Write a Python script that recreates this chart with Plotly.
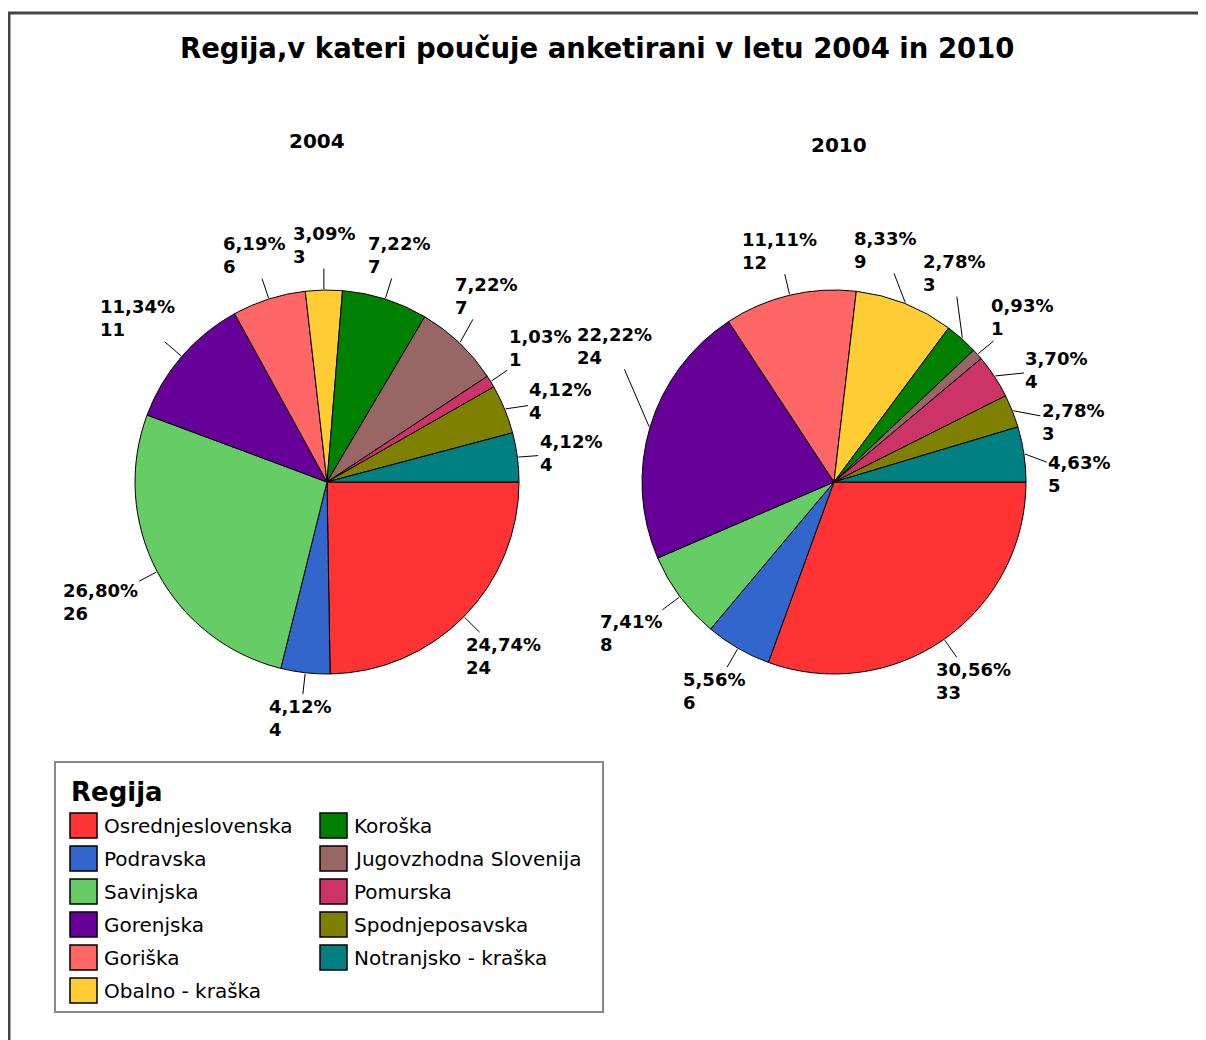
import numpy as np
import plotly.graph_objects as go

# data
regions = ["Osrednjeslovenska", "Podravska", "Savinjska", "Gorenjska", "Goriška",
           "Obalno - kraška", "Koroška", "Jugovzhodna Slovenija", "Pomurska",
           "Spodnjeposavska", "Notranjsko - kraška"]
counts_2004 = [24, 4, 26, 11, 6, 3, 7, 7, 1, 4, 4]
counts_2010 = [33, 6, 8, 24, 12, 9, 3, 1, 4, 3, 5]
years = ["2004", "2010"]

colors = ["#FF3333", "#3366CC", "#66CC66", "#660099", "#FF6666", "#FFCC33",
          "#008000", "#996666", "#CC3366", "#808000", "#008080"]

# page is 1206x1040, the html body adds an 8px margin
PAGE_W, PAGE_H = 1206, 1040
OFF = 8
W, H = PAGE_W - OFF, PAGE_H - OFF
R = 192
GAP = 20
centers = [(327, 482), (834, 482)]
FONT = "DejaVu Sans"


def X(px):
    return (px - OFF) / W


def Y(py):
    return 1 - (py - OFF) / H


def bold_width(s, size):
    w = {"%": 1.002, ",": 0.380}
    return sum(w.get(c, 0.696) for c in s) * size


def overlap(a, b, pad=2):
    ox = a[2] + b[2] + pad - abs(a[0] - b[0])
    oy = a[3] + b[3] + pad - abs(a[1] - b[1])
    return max(ox, 0) * max(oy, 0)


def place_labels(mids, hws, hhs, cx, cy, obstacles):
    ang = list(mids)
    n = len(ang)
    step = 0.003

    def box(i, a=None):
        a = ang[i] if a is None else a
        ux, uy = np.cos(a), np.sin(a)
        ext = min(hws[i] / max(abs(ux), 1e-6), hhs[i] / max(abs(uy), 1e-6))
        d = R + GAP + ext
        return (cx + d * ux, cy + d * uy, hws[i], hhs[i])

    for _ in range(4000):
        moved = False
        for i in range(n):
            j = (i + 1) % n
            if overlap(box(i), box(j)) > 0:
                ang[i] -= step
                ang[j] += step
                moved = True
            hit = sum(overlap(box(i), ob) for ob in obstacles)
            if hit > 0:
                up = sum(overlap(box(i, ang[i] + 5 * step), ob) for ob in obstacles)
                dn = sum(overlap(box(i, ang[i] - 5 * step), ob) for ob in obstacles)
                ang[i] += step if up <= dn else -step
                moved = True
        if not moved:
            break
    return [box(i) for i in range(n)]


fig = go.Figure()
annotations = []
shapes = []
placed = []

for year, counts, (cx, cy) in zip(years, [counts_2004, counts_2010], centers):
    fig.add_trace(go.Pie(
        labels=regions,
        values=counts,
        sort=False,
        direction="clockwise",
        rotation=90,
        textinfo="none",
        marker=dict(colors=colors, line=dict(color="black", width=1)),
        domain=dict(x=[X(cx - R), X(cx + R)], y=[Y(cy + R), Y(cy - R)]),
        showlegend=False,
        name=year,
    ))

    total = sum(counts)
    cum = np.cumsum([0] + counts)
    mids = [(cum[i] + counts[i] / 2) / total * 2 * np.pi for i in range(len(counts))]
    pcts = [f"{v / total * 100:.2f}".replace(".", ",") + "%" for v in counts]
    hws = [max(bold_width(p, 18), bold_width(str(v), 18)) / 2 + 2 for p, v in zip(pcts, counts)]
    hhs = [25] * len(counts)
    spots = place_labels(mids, hws, hhs, cx, cy, list(placed))
    placed.extend(spots)

    for a, p, v, (tx, ty, _, _) in zip(mids, pcts, counts, spots):
        ex, ey = cx + (R + 1) * np.cos(a), cy + (R + 1) * np.sin(a)
        annotations.append(dict(
            x=X(ex), y=Y(ey), xref="paper", yref="paper",
            ax=tx - ex, ay=ty - ey,
            text=f"<b>{p}<br>{v}</b>", align="left",
            showarrow=True, arrowhead=0, arrowwidth=1, arrowcolor="black", standoff=0,
            font=dict(family=FONT, size=18, color="black"),
        ))

    # year caption above each pie
    annotations.append(dict(
        x=X(cx - 10 if year == "2004" else cx + 5), y=Y(141 if year == "2004" else 145),
        xref="paper", yref="paper", xanchor="center", yanchor="middle", showarrow=False,
        text=f"<b>{year}</b>", font=dict(family=FONT, size=20, color="black"),
    ))

# title
annotations.append(dict(
    x=X(597), y=Y(48), xref="paper", yref="paper", xanchor="center", yanchor="middle",
    showarrow=False,
    text="<b>Regija,v kateri poučuje anketirani v letu 2004 in 2010</b>",
    font=dict(family=FONT, size=27.5, color="black"),
))

# outer frame
shapes.append(dict(type="rect", xref="paper", yref="paper",
                   x0=X(9), x1=X(1225), y0=Y(1060), y1=Y(13),
                   line=dict(color="#444444", width=3)))

# legend box drawn by hand (two columns, filled top-down)
shapes.append(dict(type="rect", xref="paper", yref="paper",
                   x0=X(55), x1=X(603), y0=Y(1012), y1=Y(762),
                   line=dict(color="#888888", width=2)))
annotations.append(dict(
    x=X(69), y=Y(792), xref="paper", yref="paper", xanchor="left", yanchor="middle",
    showarrow=False,
    text="<b>Regija</b>", font=dict(family=FONT, size=26, color="black"),
))
col_x = [70, 320]
for k, (name, col) in enumerate(zip(regions, colors)):
    c, r = divmod(k, 6)
    x0 = col_x[c]
    y0 = 813 + r * 33
    shapes.append(dict(type="rect", xref="paper", yref="paper",
                       x0=X(x0), x1=X(x0 + 27), y0=Y(y0 + 25), y1=Y(y0),
                       fillcolor=col, line=dict(color="black", width=1.5)))
    annotations.append(dict(
        x=X(x0 + 32), y=Y(y0 + 13), xref="paper", yref="paper",
        xanchor="left", yanchor="middle", showarrow=False, text=name,
        font=dict(family=FONT, size=20, color="black"),
    ))

fig.update_layout(
    width=W, height=H,
    margin=dict(l=0, r=0, t=0, b=0),
    paper_bgcolor="white",
    plot_bgcolor="white",
    annotations=annotations,
    shapes=shapes,
)

fig.write_html("out.html")
